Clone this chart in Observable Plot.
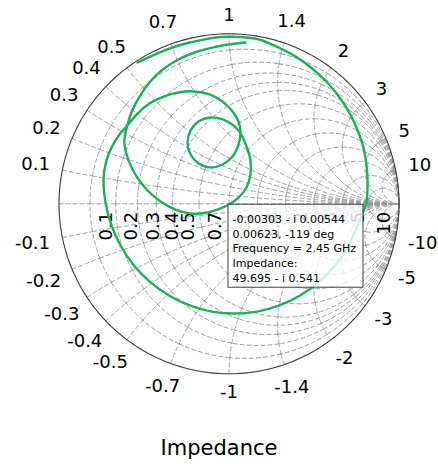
<!DOCTYPE html>
<html><head><meta charset="utf-8">
<script src="https://cdn.jsdelivr.net/npm/d3@7"></script>
<script src="https://cdn.jsdelivr.net/npm/@observablehq/plot@0.6"></script>
<style>
body{margin:0;background:#fff;}
#chart svg{display:block;}
#title{font-family:"DejaVu Sans";font-size:21px;line-height:21px;text-align:center;width:438px;color:#000;}
</style></head>
<body><div id="chart"></div><div id="title">Impedance</div>
<script>
// Smith chart grid values (normalized resistance / reactance)
const gridValues = [0.1, 0.2, 0.3, 0.4, 0.5, 0.7, 1, 1.4, 2, 3, 5, 10];
const traceRe = [-0.538,-0.450,-0.356,-0.256,-0.150,-0.044,0.068,0.171,0.251,0.328,0.401,0.469,0.532,0.589,0.640,0.685,0.724,0.755,0.781,0.799,0.810,0.815,0.814,0.806,
 0.756,0.699,0.623,0.528,0.418,0.296,0.166,0.032,-0.101,-0.231,-0.353,-0.463,-0.558,-0.635,-0.692,-0.726,-0.738,-0.721,-0.685,-0.644,-0.597,
 -0.538,-0.468,-0.385,-0.297,-0.203,-0.115,-0.038,0.021,0.056,0.068,0.056,0.021,-0.038,-0.109,-0.179,-0.226,-0.244,-0.226,-0.179,-0.109,-0.038,0.026,0.068,
 0.103,0.126,0.126,0.103,0.056,-0.00303,-0.068,-0.144,-0.226,-0.315,-0.403,-0.479,-0.544,-0.591,-0.615,-0.615,-0.597,-0.574,-0.526,-0.468,-0.397,-0.309,-0.203,-0.085,0.021,0.097];
const traceIm = [0.831,0.872,0.911,0.943,0.966,0.981,0.981,0.968,0.938,0.902,0.861,0.812,0.759,0.702,0.640,0.575,0.506,0.436,0.364,0.291,0.217,0.144,0.071,0.000,
 -0.126,-0.251,-0.364,-0.461,-0.539,-0.598,-0.634,-0.645,-0.634,-0.598,-0.539,-0.461,-0.364,-0.251,-0.126,0.006,0.143,0.255,0.343,0.408,0.461,
 0.531,0.590,0.631,0.655,0.661,0.643,0.602,0.543,0.484,0.419,0.349,0.278,0.231,0.214,0.237,0.290,0.361,0.431,0.484,0.508,0.496,0.461,0.414,
 0.337,0.255,0.172,0.096,0.037,-0.00544,-0.034,-0.054,-0.057,-0.034,0.014,0.078,0.161,0.255,0.349,0.384,0.466,0.537,0.631,0.714,0.784,0.843,0.890,0.922,0.940,0.949];
// Data tip
const tipRe = -0.00303, tipIm = -0.00544;
const tipLines = ["-0.00303 - i 0.00544", "0.00623, -119 deg", "Frequency = 2.45 GHz", "Impedance:", "49.695 - i 0.541"];
const titleText = "Impedance";

const R = 170; // px per unit of reflection coefficient
const px = v => v / R;
const trace = traceRe.map((re, i) => ({re, im: traceIm[i]}));
const toGamma = (r, x) => { const d = (r + 1) ** 2 + x * x; return [(r * r + x * x - 1) / d, 2 * x / d]; };
const at = v => v === Infinity ? Math.PI / 2 : v === -Infinity ? -Math.PI / 2 : Math.atan(v);

// grid segments (broken at every intersection so the dash pattern restarts)
const grid = []; let gid = 0;
const breaksX = [-Infinity, ...gridValues.slice().reverse().map(v => -v), 0, ...gridValues, Infinity];
const breaksR = [0, ...gridValues, Infinity];
const N = 24;
for (const r of gridValues) {
  for (let k = 0; k < breaksX.length - 1; k++) {
    const t0 = at(breaksX[k]), t1 = at(breaksX[k + 1]);
    for (let i = 0; i <= N; i++) { const t = t0 + (t1 - t0) * i / N; const [a, b] = toGamma(r, Math.tan(t)); grid.push({a, b, id: gid}); }
    gid++;
  }
}
for (const xv of [0, ...gridValues, ...gridValues.map(v => -v)]) {
  for (let k = 0; k < breaksR.length - 1; k++) {
    const t0 = at(breaksR[k]), t1 = at(breaksR[k + 1]);
    for (let i = 0; i <= N; i++) { const t = t0 + (t1 - t0) * i / N; const [a, b] = toGamma(Math.tan(t), xv); grid.push({a, b, id: gid}); }
    gid++;
  }
}
const border = d3.range(0, 361).map(d => ({a: Math.cos(d * Math.PI / 180), b: Math.sin(d * Math.PI / 180)}));

// label helpers
const fs = 18;
const textW = s => [...s].reduce((w, c) => w + (c === "." ? 0.318 : c === "-" ? 0.361 : 0.636), 0) * fs;
const reactLabels = [...gridValues, ...gridValues.map(v => -v)].map(v => {
  const [a, b] = toGamma(0, v); const th = Math.atan2(b, a); const s = String(v);
  const rad = (R + 12 + textW(s) / 2 * Math.abs(Math.cos(th)) + 6.5 * Math.abs(Math.sin(th))) / R;
  return {x: rad * Math.cos(th), y: rad * Math.sin(th), s};
});
const resLabels = gridValues.map(v => ({x: toGamma(v, 0)[0] + px(16), y: -px(8), s: String(v)}));

const W = 438, H = 438, cx = 228.5, cy = 203.3;
const chart = Plot.plot({
  width: W, height: H,
  marginLeft: cx - R, marginRight: W - cx - R, marginTop: cy - R, marginBottom: H - cy - R,
  x: {domain: [-1, 1], axis: null}, y: {domain: [-1, 1], axis: null},
  style: {fontFamily: "DejaVu Sans", fontSize: "18px", background: "white", color: "black"},
  marks: [
    Plot.line(grid, {x: "a", y: "b", z: "id", stroke: "#9a9a9a", strokeWidth: 1, strokeDasharray: "4,3"}),
    Plot.line(border, {x: "a", y: "b", stroke: "#3a3a3a", strokeWidth: 1.1}),
    Plot.text(resLabels, {x: "x", y: "y", text: "s", rotate: -90, textAnchor: "end", lineAnchor: "middle", fontSize: fs, fill: "black"}),
    Plot.line(trace, {x: "re", y: "im", stroke: "#19b15a", strokeWidth: 2.4, curve: "catmull-rom"}),
    Plot.rect([{re: tipRe, im: tipIm}], {x1: d => d.re, x2: d => d.re + px(135), y1: d => d.im, y2: d => d.im - px(83), fill: "white", fillOpacity: 0.8, stroke: "#404040", strokeWidth: 1}),
    Plot.text([{re: tipRe, im: tipIm}], {x: d => d.re + px(4), y: d => d.im - px(7.5), text: () => tipLines.join("\n"), textAnchor: "start", lineAnchor: "top", lineHeight: 14.8 / 11, fontSize: 11, fill: "black"}),
    Plot.text(reactLabels, {x: "x", y: "y", text: "s", textAnchor: "middle", lineAnchor: "middle", fontSize: fs, fill: "black"})
  ]
});
document.getElementById("chart").appendChild(chart);
document.getElementById("title").textContent = titleText;
</script>
</body></html>
